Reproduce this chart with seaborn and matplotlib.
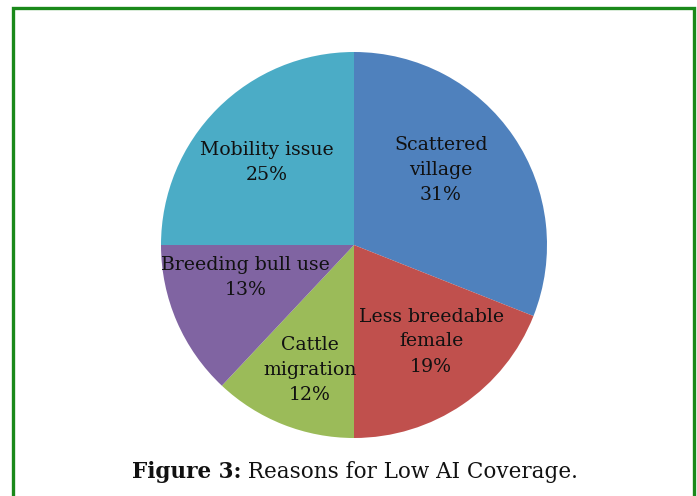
import matplotlib
matplotlib.use("Agg")
import matplotlib.pyplot as plt
import seaborn as sns
from matplotlib.patches import Rectangle

# data
reasons = ["Scattered\nvillage", "Less breedable\nfemale", "Cattle\nmigration",
           "Breeding bull use", "Mobility issue"]
shares = [31, 19, 12, 13, 25]
colors = ["#4F81BD", "#C0504D", "#9BBB59", "#8064A2", "#4BACC6"]

# label anchors inside the pie (fraction of radius), as placed in the original
label_pos = [(0.45, 0.39), (0.40, -0.50), (-0.23, -0.65), (-0.56, -0.17), (-0.45, 0.43)]


def main():
    sns.set_theme(style="white")
    plt.rcParams["font.family"] = ["DejaVu Serif"]

    W, H = 697, 496
    fig = plt.figure(figsize=(W / 100, H / 100), dpi=100)

    cx, cy, r = 354, 245, 193
    ax = fig.add_axes([(cx - r) / W, (H - cy - r) / H, 2 * r / W, 2 * r / H])
    ax.pie(shares, colors=colors, startangle=90, counterclock=False,
           radius=1.0, wedgeprops=dict(linewidth=0))
    ax.set_xlim(-1, 1)
    ax.set_ylim(-1, 1)
    ax.set_aspect("equal")
    ax.axis("off")

    for name, val, (x, y) in zip(reasons, shares, label_pos):
        ax.text(x, y, f"{name}\n{val}%", ha="center", va="center",
                fontsize=13.6, color="#111111", linespacing=1.5)

    # green frame around the figure
    fig.patches.append(Rectangle((13 / W, -0.05), (694 - 13) / W, 1 - 8 / H + 0.05,
                                 transform=fig.transFigure, fill=False,
                                 edgecolor="#1A891A", linewidth=2.4))

    # caption with bold prefix
    ty = 1 - 472 / H
    t1 = fig.text(0, ty, "Figure 3:", fontsize=15.5, fontweight="bold",
                  ha="left", va="center", color="#111111")
    t2 = fig.text(0, ty, " Reasons for Low AI Coverage.", fontsize=15.5,
                  ha="left", va="center", color="#111111")
    fig.canvas.draw()
    rend = fig.canvas.get_renderer()
    w1 = t1.get_window_extent(rend).width
    w2 = t2.get_window_extent(rend).width
    x0 = (355 - (w1 + w2) / 2) / W
    t1.set_x(x0)
    t2.set_x(x0 + w1 / W)

    fig.savefig("out.png", dpi=100)


if __name__ == "__main__":
    main()
